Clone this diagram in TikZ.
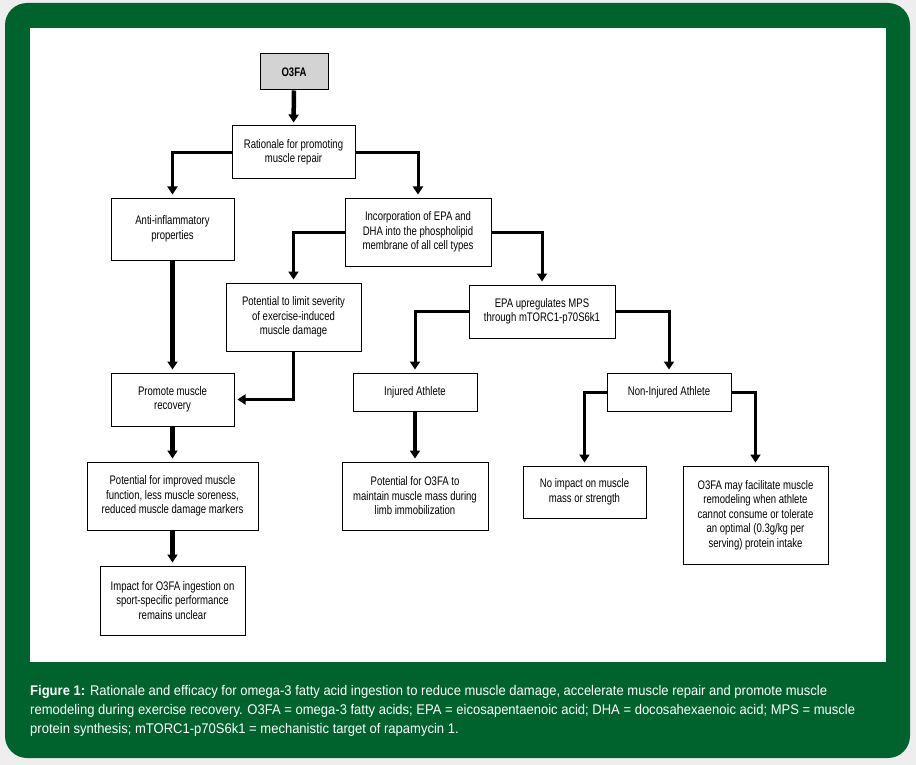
\documentclass[tikz,border=0pt]{standalone}
\usepackage{fontspec}
\setmainfont{Liberation Sans}[FakeStretch=0.77]
\newfontfamily\capfont{Liberation Sans}[FakeStretch=0.93]
\usetikzlibrary{arrows.meta}
\definecolor{fgreen}{RGB}{0,99,45}
\definecolor{bggray}{RGB}{238,238,238}
\definecolor{boxgray}{RGB}{211,211,211}
\begin{document}
\begin{tikzpicture}[x=1pt,y=-1pt,
  box/.style={draw=black,line width=1pt,fill=white,align=center,
    font=\fontsize{12.4}{14.5}\selectfont,inner sep=0pt,anchor=center},
  arr/.style={-{Triangle[width=10pt,length=8pt]},line width=3pt,shorten >=3pt},
  thickarr/.style={arr,line width=4.5pt}]
\useasboundingbox (0,0) rectangle (916,765);
\fill[bggray] (0,0) rectangle (916,765);
\fill[fgreen,rounded corners=22pt] (5,3) rectangle (910,758);
\fill[white] (30,28) rectangle (886,662);

\node[box,fill=boxgray,minimum width=68pt,minimum height=36pt] (o3fa) at (294,72) {\textbf{O3FA}};
\node[box,minimum width=123pt,minimum height=53pt] (rat) at (293.5,152.5) {Rationale for promoting\\muscle repair};
\node[box,minimum width=123pt,minimum height=62pt] (anti) at (172.5,229) {Anti-inflammatory\\properties};
\node[box,minimum width=146pt,minimum height=68pt] (inc) at (418,232) {Incorporation of EPA and\\DHA into the phospholipid\\membrane of all cell types};
\node[box,minimum width=135pt,minimum height=68pt] (lim) at (293.5,317) {Potential to limit severity\\of exercise-induced\\muscle damage};
\node[box,minimum width=146pt,minimum height=53pt] (epa) at (542,311.5) {EPA upregulates MPS\\through mTORC1-p70S6k1};
\node[box,minimum width=123pt,minimum height=53pt] (prom) at (172.5,399.5) {Promote muscle\\recovery};
\node[box,minimum width=124pt,minimum height=38pt] (inj) at (415,392) {Injured Athlete};
\node[box,minimum width=124pt,minimum height=38pt] (non) at (669,392) {Non-Injured Athlete};
\node[box,minimum width=171pt,minimum height=68pt] (impr) at (172.5,496) {Potential for improved muscle\\function, less muscle soreness,\\reduced muscle damage markers};
\node[box,minimum width=146pt,minimum height=68pt] (maint) at (415,496) {Potential for O3FA to\\maintain muscle mass during\\limb immobilization};
\node[box,minimum width=123pt,minimum height=52pt] (noimp) at (584.5,492) {No impact on muscle\\mass or strength};
\node[box,minimum width=145pt,minimum height=98pt] (may) at (755.5,515) {O3FA may facilitate muscle\\remodeling when athlete\\cannot consume or tolerate\\an optimal (0.3g/kg per\\serving) protein intake};
\node[box,minimum width=145pt,minimum height=69pt] (imp) at (172.5,600.5) {Impact for O3FA ingestion on\\sport-specific performance\\remains unclear};

\draw[thickarr] (o3fa.south) -- (rat.north);
\draw[arr] (rat.west) -| (anti.north);
\draw[arr] (rat.east) -| (inc.north);
\draw[arr] (inc.west) -| (lim.north);
\draw[arr] (inc.east) -| (epa.north);
\draw[thickarr] (anti.south) -- (prom.north);
\draw[arr] (lim.south) |- (prom.east);
\draw[arr] (epa.west) -| (inj.north);
\draw[arr] (epa.east) -| (non.north);
\draw[arr] (non.west) -| (noimp.north);
\draw[arr] (non.east) -| (may.north);
\draw[thickarr] (prom.south) -- (impr.north);
\draw[thickarr] (impr.south) -- (imp.north);
\draw[thickarr] (inj.south) -- (maint.north);

\node[anchor=north west,inner sep=0pt,text=white,align=left,
  font=\capfont\fontsize{14}{19.3}\selectfont] (cap) at (30,685)
  {\textbf{Figure 1:} Rationale and efficacy for omega-3 fatty acid ingestion to reduce muscle damage, accelerate muscle repair and promote muscle\\
  remodeling during exercise recovery. O3FA = omega-3 fatty acids; EPA = eicosapentaenoic acid; DHA = docosahexaenoic acid; MPS = muscle\\
  protein synthesis; mTORC1-p70S6k1 = mechanistic target of rapamycin 1.};
\end{tikzpicture}
\end{document}
